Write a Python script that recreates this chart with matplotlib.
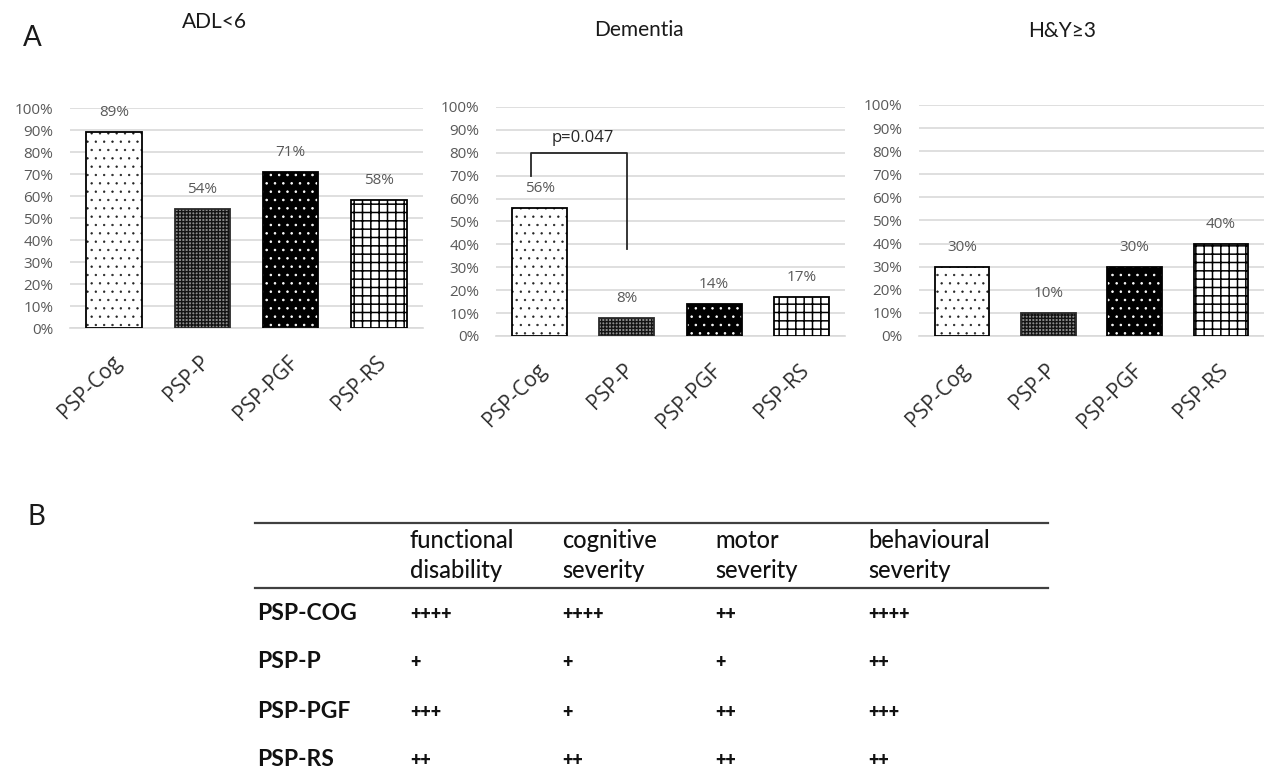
import matplotlib
matplotlib.use("Agg")
import matplotlib.pyplot as plt
from matplotlib.ticker import FuncFormatter, MultipleLocator
from matplotlib.transforms import ScaledTranslation

# ---- data -----------------------------------------------------------------
groups = ["PSP-Cog", "PSP-P", "PSP-PGF", "PSP-RS"]
adl_lt6 = [0.89, 0.54, 0.71, 0.58]
dementia = [0.56, 0.08, 0.14, 0.17]
hy_ge3 = [0.30, 0.10, 0.30, 0.40]
panel_titles = ["ADL<6", "Dementia", "H&Y\u22653"]

p_value_text = "p=0.047"

table_rows = ["PSP-COG", "PSP-P", "PSP-PGF", "PSP-RS"]
table_cols = [("functional", "disability"), ("cognitive", "severity"),
              ("motor", "severity"), ("behavioural", "severity")]
# severity grading (number of "+") per row, per column
functional = [4, 1, 3, 2]
cognitive = [4, 1, 1, 2]
motor = [2, 1, 2, 2]
behavioural = [4, 2, 3, 2]

# ---- styling ----------------------------------------------------------------
AX_FONT = "Open Sans"
TXT_FONT = "Lato"
GRID = "#d9d9d9"
LABEL_GREY = "#595959"

W, H = 1264, 779
fig = plt.figure(figsize=(W / 100, H / 100), dpi=100, facecolor="white")


def px_axes(left, top, right, bottom):
    return fig.add_axes([left / W, 1 - bottom / H, (right - left) / W, (bottom - top) / H])


# per-group bar styles: face, outline, hatch pattern, hatch colour, hatch width
styles = [
    dict(face="white", edge="black", hatch="..", hcolor="#222222", hlw=0.45),
    dict(face="#8c8c8c", edge="#2a2a2a", hatch="+++++", hcolor="#141414", hlw=1.0),
    dict(face="black", edge="black", hatch="..", hcolor="white", hlw=0.6),
    dict(face="white", edge="black", hatch="++", hcolor="black", hlw=1.1),
]


def draw_panel(ax, values):
    for i, v in enumerate(values):
        st = styles[i]
        ax.bar(i, v, width=0.63, color=st["face"], linewidth=0, zorder=2)
        with plt.rc_context({"hatch.linewidth": st["hlw"]}):
            ax.bar(i, v, width=0.63, facecolor="none", edgecolor=st["hcolor"],
                   hatch=st["hatch"], linewidth=0, zorder=3)
        ax.bar(i, v, width=0.63, facecolor="none", edgecolor=st["edge"],
               linewidth=1.3, zorder=4)
        ax.annotate(f"{v:.0%}", (i, v), xytext=(0, 14), textcoords="offset points",
                    ha="center", va="center", fontsize=11, color=LABEL_GREY,
                    family=AX_FONT)
    ax.set_xlim(-0.5, len(groups) - 0.5)
    ax.set_ylim(0, 1.0)
    ax.yaxis.set_major_locator(MultipleLocator(0.1))
    ax.yaxis.set_major_formatter(FuncFormatter(lambda y, _: f"{y:.0%}"))
    ax.grid(axis="y", color=GRID, linewidth=1.2, zorder=0)
    ax.set_axisbelow(True)
    for s in ["top", "right", "left"]:
        ax.spines[s].set_visible(False)
    ax.spines["bottom"].set_color(GRID)
    ax.spines["bottom"].set_linewidth(1.2)
    ax.tick_params(axis="y", length=0, pad=12, labelsize=11, labelcolor=LABEL_GREY)
    for lab in ax.get_yticklabels():
        lab.set_family(AX_FONT)
    ax.set_xticks([])
    trans = ax.get_xaxis_transform() + ScaledTranslation(4 / 100, -31 / 100, fig.dpi_scale_trans)
    for i, g in enumerate(groups):
        ax.text(i, 0, g, transform=trans, rotation=45, rotation_mode="anchor",
                ha="right", va="center", fontsize=15, color="#2e2e2e", family=AX_FONT)


ax1 = px_axes(70, 108, 423, 328)
ax2 = px_axes(496, 107, 845, 336)
ax3 = px_axes(919, 105, 1264, 336)
for ax, vals in zip([ax1, ax2, ax3], [adl_lt6, dementia, hy_ge3]):
    draw_panel(ax, vals)

# significance bracket between PSP-Cog and PSP-P in the dementia panel
ax2.plot([-0.1, -0.1, 1.0, 1.0], [0.70, 0.80, 0.80, 0.38], color="#262626",
         linewidth=1.3, zorder=5)
ax2.text(0.5, 0.865, p_value_text, ha="center", va="center", fontsize=12,
         color="#262626", family=AX_FONT)

# panel titles and letters
for (tx, ty), t in zip([(214, 22), (639, 30), (1062, 31)], panel_titles):
    fig.text(tx / W, 1 - ty / H, t, ha="center", va="center", fontsize=15,
             color="#1a1a1a", family=TXT_FONT)
fig.text(32 / W, 1 - 38 / H, "A", ha="center", va="center", fontsize=20,
         color="#1a1a1a", family=TXT_FONT)
fig.text(36 / W, 1 - 517 / H, "B", ha="center", va="center", fontsize=20,
         color="#1a1a1a", family=TXT_FONT)

# ---- table B -----------------------------------------------------------------
tab = fig.add_axes([0, 0, 1, 1], facecolor="none")
tab.set_xlim(0, W)
tab.set_ylim(H, 0)
tab.axis("off")

col_x = [410, 562, 715, 868]
row_y = [613, 662, 711, 759]
tab.plot([255, 1048], [523, 523], color="#404040", linewidth=1.6)
tab.plot([255, 1048], [588, 588], color="#404040", linewidth=1.6)
for cx, (l1, l2) in zip(col_x, table_cols):
    tab.text(cx, 541, l1, ha="left", va="center", fontsize=17, fontweight="medium",
             color="#111111", family=TXT_FONT)
    tab.text(cx, 571, l2, ha="left", va="center", fontsize=17, fontweight="medium",
             color="#111111", family=TXT_FONT)

scores = [functional, cognitive, motor, behavioural]
for r, (name, ry) in enumerate(zip(table_rows, row_y)):
    tab.text(257, ry, name, ha="left", va="center", fontsize=16.5, fontweight="bold",
             color="#111111", family=TXT_FONT)
    for cx, col in zip(col_x, scores):
        tab.text(cx, ry + 1, "+" * col[r], ha="left", va="center", fontsize=13,
                 fontweight="heavy", color="#111111", family=TXT_FONT)

fig.savefig("out.png", dpi=100, facecolor="white")
